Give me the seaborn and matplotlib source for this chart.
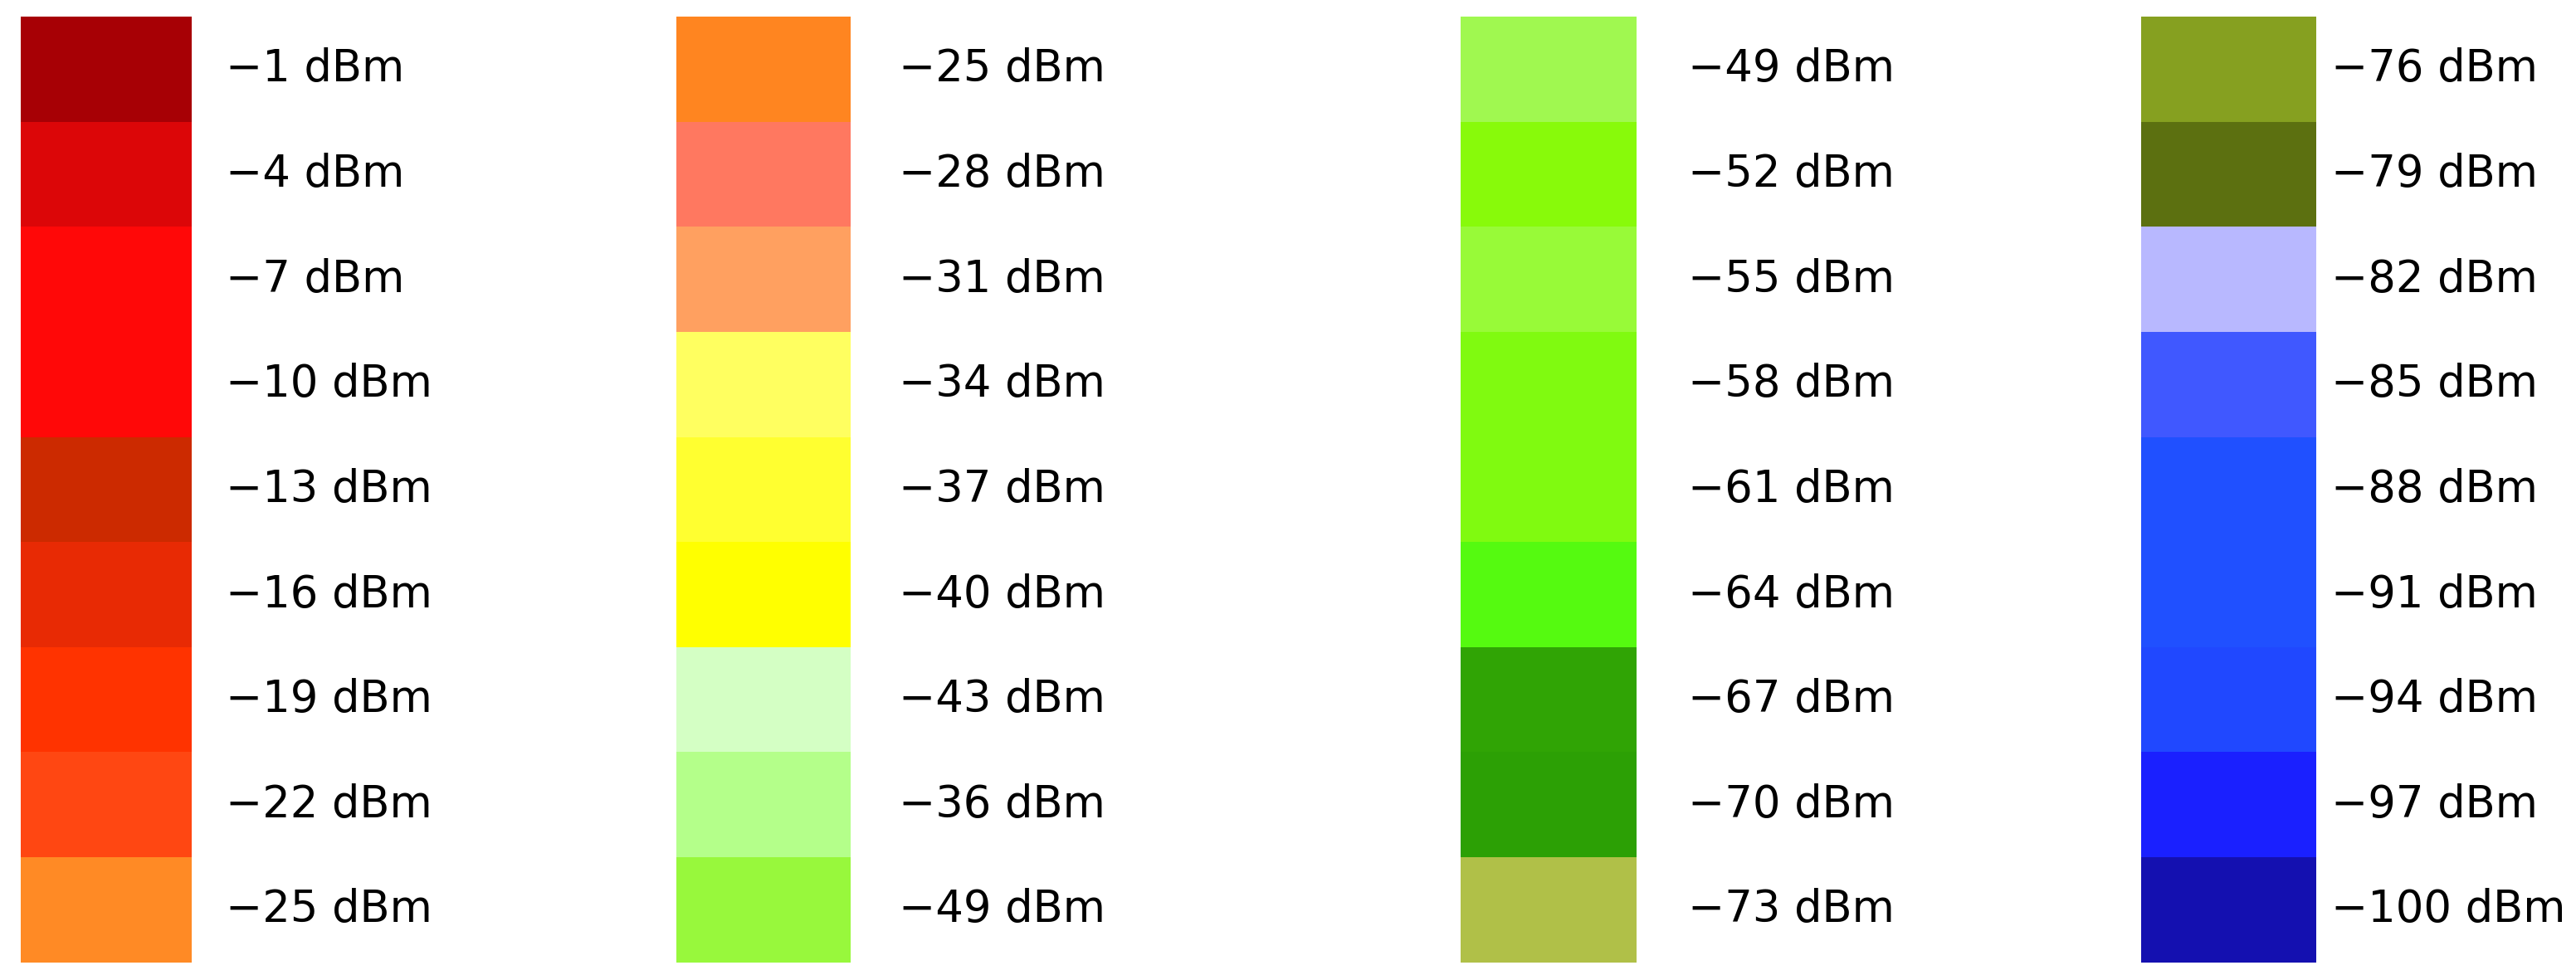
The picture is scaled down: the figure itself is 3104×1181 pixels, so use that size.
import numpy as np
import matplotlib
matplotlib.use("Agg")
import matplotlib.pyplot as plt
from matplotlib.colors import ListedColormap
import seaborn as sns

sns.set_style("white")
plt.rcParams['font.family'] = ['DejaVu Sans']

labels_1 = ["−1 dBm", "−4 dBm", "−7 dBm", "−10 dBm", "−13 dBm", "−16 dBm", "−19 dBm", "−22 dBm", "−25 dBm"]
colors_1 = ["#A70005", "#DC0608", "#FF0808", "#FF0808", "#CC2A00", "#E82A04", "#FF3300", "#FF4712", "#FF8A25"]

labels_2 = ["−25 dBm", "−28 dBm", "−31 dBm", "−34 dBm", "−37 dBm", "−40 dBm", "−43 dBm", "−36 dBm", "−49 dBm"]
colors_2 = ["#FF8520", "#FF7860", "#FFA060", "#FFFF60", "#FFFF30", "#FFFF00", "#D4FFC4", "#B4FF8A", "#98F83C"]

labels_3 = ["−49 dBm", "−52 dBm", "−55 dBm", "−58 dBm", "−61 dBm", "−64 dBm", "−67 dBm", "−70 dBm", "−73 dBm"]
colors_3 = ["#A0F850", "#88FA0A", "#98FA38", "#80FA10", "#80FA10", "#55FA10", "#30A405", "#2CA005", "#B0C048"]

labels_4 = ["−76 dBm", "−79 dBm", "−82 dBm", "−85 dBm", "−88 dBm", "−91 dBm", "−94 dBm", "−97 dBm", "−100 dBm"]
colors_4 = ["#86A020", "#5C7010", "#B8B8FF", "#4058FF", "#2050FF", "#2050FF", "#2048FF", "#1A20FF", "#1410B0"]

columns = [(labels_1, colors_1), (labels_2, colors_2), (labels_3, colors_3), (labels_4, colors_4)]

# layout (figure fractions) and label padding (points)
lefts = [0.0081, 0.2626, 0.5670, 0.8312]
widths = [0.0664, 0.0676, 0.0683, 0.0680]
pads = [29, 42, 45, 13]
bottom, height = 0.018, 0.965

fig = plt.figure(figsize=(31.04, 11.81), dpi=100)
for (labels, colors), l, w, pad in zip(columns, lefts, widths, pads):
    ax = fig.add_axes([l, bottom, w, height])
    data = np.arange(len(labels)).reshape(-1, 1)
    sns.heatmap(data, ax=ax, cmap=ListedColormap(colors), cbar=False,
                xticklabels=False, yticklabels=labels, linewidths=0)
    ax.yaxis.tick_right()
    ax.tick_params(axis='y', length=0, pad=pad, labelsize=38, labelrotation=0,
                   labelcolor='black')
    for t in ax.get_yticklabels():
        t.set_va('center')
        t.set_ha('left')
    ax.set_ylabel("")
    ax.set_xlabel("")

fig.savefig("out.png", dpi=100, facecolor="white")
